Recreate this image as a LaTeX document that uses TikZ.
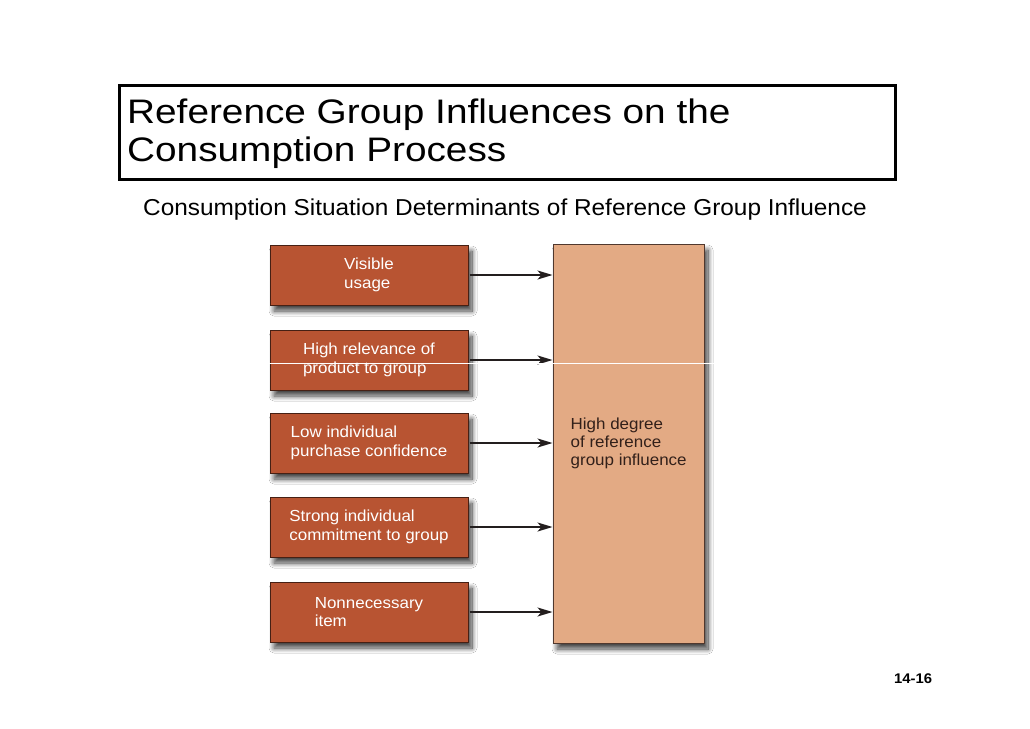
\documentclass[tikz,border=0pt]{standalone}
\usepackage{fontspec}
\setmainfont{Liberation Sans}[FakeStretch=1.06]
\newfontfamily\titlefont{Liberation Sans}[FakeStretch=1.14]
\usetikzlibrary{arrows.meta,shadows.blur,calc}
\definecolor{boxfill}{RGB}{184,84,50}
\definecolor{boxline}{RGB}{70,32,20}
\definecolor{bigfill}{RGB}{227,170,132}
\definecolor{bigline}{RGB}{80,56,46}
\definecolor{arrowc}{RGB}{35,30,30}
\definecolor{bigtextc}{RGB}{50,32,26}
\tikzset{
  softshadow/.style={blur shadow={shadow xshift=4pt, shadow yshift=-6pt, shadow blur radius=5pt,
    shadow opacity=75, shadow blur steps=12}},
  cause/.style={draw=boxline, line width=1pt, fill=boxfill, minimum width=198pt,
    minimum height=60pt, text=white, align=left, inner sep=0pt,
    font=\fontsize{16}{18.5}\selectfont, softshadow},
  effect/.style={draw=bigline, line width=1pt, fill=bigfill, minimum width=151pt,
    minimum height=399pt, inner sep=0pt, softshadow},
  arr/.style={draw=arrowc, line width=2pt, -{Stealth[length=15pt,width=9pt,inset=4pt]}},
  titletext/.style={anchor=base west, inner sep=0pt, font=\titlefont\fontsize{34}{38}\selectfont},
}
\begin{document}
\begin{tikzpicture}[x=1pt,y=-1pt]
\useasboundingbox[fill=white] (0,0) rectangle (1030,728);
% title
\node[draw, line width=3pt, minimum width=776pt, minimum height=94pt, inner sep=0pt] (titlebox) at (507.5,132.5) {};
\node[titletext] (title1) at (127,123) {Reference Group Influences on the};
\node[titletext] (title2) at (127,161) {Consumption Process};
\node[anchor=base west, inner sep=0pt, font=\fontsize{23}{26}\selectfont] (subtitle) at (143,215)
  {Consumption Situation Determinants of Reference Group Influence};
% boxes
\node[effect] (big) at (628.5,443.5) {};
\node[cause] (b1) at (369,275) {Visible\\usage};
\node[cause] (b2) at (369,360) {High relevance of\\product to group};
\node[cause] (b3) at (369,443) {Low individual\\purchase confidence};
\node[cause] (b4) at (369,527) {Strong individual\\commitment to group};
\node[cause] (b5) at (369,612) {Nonnecessary\\item};
\node[anchor=west, align=left, inner sep=0pt, text=bigtextc, font=\fontsize{16}{18}\selectfont] (bigtext)
  at ([xshift=18pt]big.west) {High degree\\of reference\\group influence};
% arrows
\foreach \b in {b1,b2,b3,b4,b5}
  \draw[arr] ([xshift=1pt]\b.east) -- (\b.east -| big.west);
% thin white scan line
\coordinate (wl1) at (268,363);
\coordinate (wl2) at (718,363);
\draw[white, line width=1pt] (wl1) -- (wl2);
% page number
\node[anchor=base west, inner sep=0pt, font=\bfseries\fontsize{14}{16}\selectfont] (pagenum) at (894,683) {14-16};
\end{tikzpicture}
\end{document}
